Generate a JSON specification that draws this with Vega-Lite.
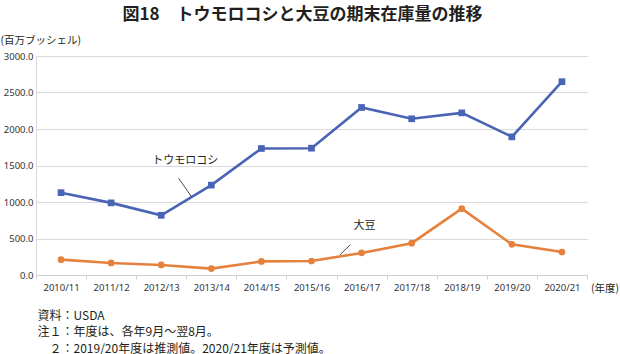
{
  "$schema": "https://vega.github.io/schema/vega-lite/v6.json",
  "width": 551,
  "height": 219,
  "autosize": "none",
  "padding": {"left": 36, "top": 56, "right": 33, "bottom": 79},
  "background": "white",
  "title": {
    "text": "図18　トウモロコシと大豆の期末在庫量の推移",
    "anchor": "middle",
    "frame": "group",
    "dx": -9,
    "dy": -7,
    "fontSize": 17,
    "fontWeight": "bold",
    "font": "Noto Sans CJK JP",
    "color": "#231f20",
    "offset": 4
  },
  "config": {
    "view": {"stroke": null},
    "font": "Noto Sans CJK JP"
  },
  "datasets": {
    "series": [
      {"year": "2010/11", "crop": "トウモロコシ", "stock": 1128},
      {"year": "2011/12", "crop": "トウモロコシ", "stock": 988},
      {"year": "2012/13", "crop": "トウモロコシ", "stock": 818},
      {"year": "2013/14", "crop": "トウモロコシ", "stock": 1231},
      {"year": "2014/15", "crop": "トウモロコシ", "stock": 1733},
      {"year": "2015/16", "crop": "トウモロコシ", "stock": 1737},
      {"year": "2016/17", "crop": "トウモロコシ", "stock": 2295},
      {"year": "2017/18", "crop": "トウモロコシ", "stock": 2140},
      {"year": "2018/19", "crop": "トウモロコシ", "stock": 2221},
      {"year": "2019/20", "crop": "トウモロコシ", "stock": 1893},
      {"year": "2020/21", "crop": "トウモロコシ", "stock": 2648},
      {"year": "2010/11", "crop": "大豆", "stock": 210},
      {"year": "2011/12", "crop": "大豆", "stock": 165},
      {"year": "2012/13", "crop": "大豆", "stock": 138},
      {"year": "2013/14", "crop": "大豆", "stock": 88},
      {"year": "2014/15", "crop": "大豆", "stock": 186},
      {"year": "2015/16", "crop": "大豆", "stock": 192},
      {"year": "2016/17", "crop": "大豆", "stock": 302},
      {"year": "2017/18", "crop": "大豆", "stock": 436},
      {"year": "2018/19", "crop": "大豆", "stock": 909},
      {"year": "2019/20", "crop": "大豆", "stock": 420},
      {"year": "2020/21", "crop": "大豆", "stock": 314}
    ],
    "cornLabel": [{"year": "2012/13", "stock": 1567, "label": "トウモロコシ"}],
    "soyLabel": [{"year": "2016/17", "stock": 673, "label": "大豆"}],
    "cornLeader": [{"year": "2012/13", "stock": 1327, "v2": 1074}],
    "soyLeader": [{"year": "2015/16", "stock": 415, "v2": 276}],
    "unit": [{"year": "2020/21", "stock": 0, "label": "(年度)"}]
  },
  "encoding": {
    "x": {
      "field": "year",
      "type": "nominal",
      "sort": null,
      "scale": {
        "domain": ["2010/11", "2011/12", "2012/13", "2013/14", "2014/15", "2015/16", "2016/17", "2017/18", "2018/19", "2019/20", "2020/21"],
        "type": "band",
        "paddingInner": 0,
        "paddingOuter": 0
      },
      "axis": {
        "title": ["資料：USDA", "注１：年度は、各年9月～翌8月。", "\u200b\u3000２：2019/20年度は推測値。2020/21年度は予測値。"],
        "titleAnchor": "start",
        "titleAlign": "left",
        "titleBaseline": "top",
        "titleX": 1,
        "titleY": 35,
        "titleFontSize": 12,
        "titleFontWeight": "normal",
        "titleColor": "#231f20",
        "titleLineHeight": 16.5,
        "titleFont": "Noto Sans CJK JP",
        "labelAngle": 0,
        "labelFontSize": 9.5,
        "labelColor": "#333333",
        "labelPadding": 3,
        "labelFont": "Noto Sans",
        "labelOverlap": false,
        "tickBand": "extent",
        "tickSize": 4,
        "tickColor": "#d0d0d0",
        "domainColor": "#d0d0d0",
        "grid": false
      }
    },
    "y": {
      "field": "stock",
      "type": "quantitative",
      "scale": {"domain": [0, 3000]},
      "axis": {
        "title": "(百万ブッシェル)",
        "titleAngle": 0,
        "titleAlign": "left",
        "titleBaseline": "middle",
        "titleX": -36,
        "titleY": -16,
        "titleFontSize": 10.5,
        "titleFontWeight": "normal",
        "titleColor": "#231f20",
        "values": [0, 500, 1000, 1500, 2000, 2500, 3000],
        "tickCount": 7,
        "format": ".1f",
        "labelFontSize": 9.5,
        "labelColor": "#333333",
        "labelFont": "Noto Sans",
        "labelOverlap": false,
        "labelPadding": 3,
        "ticks": false,
        "domainColor": "#d9d9d9",
        "gridColor": "#d9d9d9"
      }
    }
  },
  "layer": [
    {
      "data": {"name": "series"},
      "mark": {"type": "line", "strokeWidth": 2.6},
      "encoding": {
        "color": {
          "field": "crop",
          "type": "nominal",
          "scale": {"domain": ["トウモロコシ", "大豆"], "range": ["#4a64b5", "#e5813d"]},
          "legend": null
        }
      }
    },
    {
      "data": {"name": "series"},
      "mark": {"type": "point", "filled": true, "opacity": 1, "size": 45},
      "encoding": {
        "shape": {
          "field": "crop",
          "type": "nominal",
          "scale": {"domain": ["トウモロコシ", "大豆"], "range": ["square", "circle"]},
          "legend": null
        },
        "color": {
          "field": "crop",
          "type": "nominal",
          "scale": {"domain": ["トウモロコシ", "大豆"], "range": ["#4a64b5", "#d9652b"]},
          "legend": null
        }
      }
    },
    {
      "data": {"name": "cornLabel"},
      "mark": {"type": "text", "dx": 24, "fontSize": 11, "color": "#231f20", "baseline": "middle"},
      "encoding": {
        "text": {"field": "label"}
      }
    },
    {
      "data": {"name": "soyLabel"},
      "mark": {"type": "text", "dx": 3, "fontSize": 11, "color": "#231f20", "baseline": "middle"},
      "encoding": {
        "text": {"field": "label"}
      }
    },
    {
      "data": {"name": "cornLeader"},
      "mark": {"type": "rule", "color": "#231f20", "strokeWidth": 0.8, "xOffset": 17.3, "x2Offset": 30.2},
      "encoding": {
        "x2": {"field": "year"},
        "y2": {"field": "v2"}
      }
    },
    {
      "data": {"name": "soyLeader"},
      "mark": {"type": "rule", "color": "#231f20", "strokeWidth": 0.8, "xOffset": 38.8, "x2Offset": 28.5},
      "encoding": {
        "x2": {"field": "year"},
        "y2": {"field": "v2"}
      }
    },
    {
      "data": {"name": "unit"},
      "mark": {"type": "text", "dx": 43, "dy": 14, "fontSize": 10.5, "color": "#231f20", "baseline": "middle"},
      "encoding": {
        "text": {"field": "label"}
      }
    }
  ]
}
